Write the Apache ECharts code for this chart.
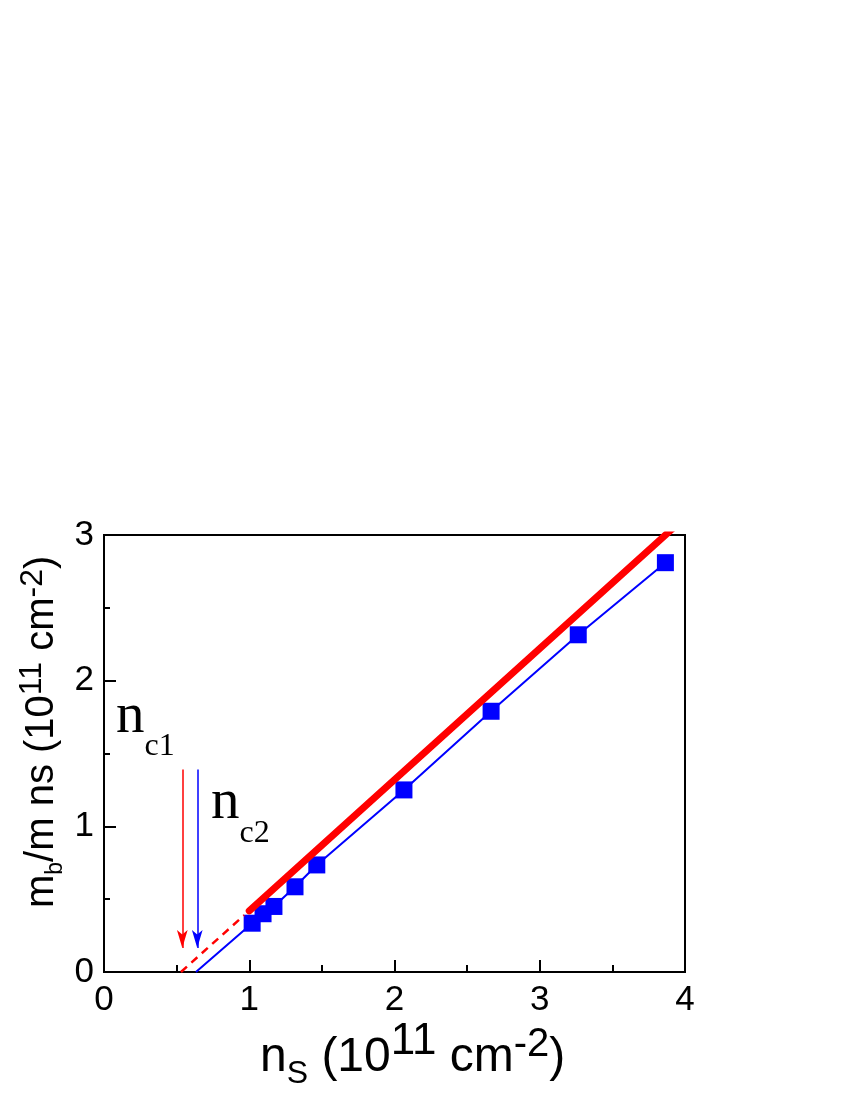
<!DOCTYPE html>
<html><head><meta charset="utf-8">
<script src="https://cdn.jsdelivr.net/npm/echarts@6/dist/echarts.min.js"></script>
<style>html,body{margin:0;padding:0;background:#fff}#c{width:850px;height:1100px}</style>
</head><body><div id="c"></div>
<script>
// ---- data ----
const xTickLabels = ['0', '1', '2', '3', '4'];
const yTickLabels = ['0', '1', '2', '3'];
const nsValues = [1.02, 1.095, 1.17, 1.315, 1.465, 2.065, 2.665, 3.265, 3.865];
const mbValues = [0.335, 0.40, 0.45, 0.585, 0.735, 1.25, 1.79, 2.315, 2.81];
const blueStart = [0.633, 0];
const redSolid = [[1.0, 0.42], [3.91, 3.04]];
const redDashed = [[0.53, 0], [0.965, 0.39]];
const arrowRed = [[0.539, 1.39], [0.539, 0.165]];
const arrowBlue = [[0.642, 1.39], [0.642, 0.165]];
const nc1Anchor = [0.083, 1.648];
const nc2Anchor = [0.737, 1.057];

const SANS = '"Liberation Sans", Arial, sans-serif';
const SERIF = '"Liberation Serif", "Times New Roman", serif';

const chart = echarts.init(document.getElementById('c'), null, {renderer: 'canvas'});
const bluePoints = nsValues.map((x, i) => [x, mbValues[i]]);

chart.setOption({
  animation: false,
  backgroundColor: '#fff',
  grid: {left: 104, right: 165, top: 535, bottom: 128, show: true, borderColor: '#000', borderWidth: 2,
         backgroundColor: 'transparent', containLabel: false, outerBoundsMode: 'none'},
  xAxis: {
    type: 'value', min: 0, max: 4, interval: 1,
    axisLine: {show: true, onZero: false, lineStyle: {color: '#000', width: 2}},
    axisTick: {show: true, inside: true, length: 12, lineStyle: {color: '#000', width: 2}},
    minorTick: {show: true, splitNumber: 2, length: 7, lineStyle: {color: '#000', width: 2}},
    splitLine: {show: false}, minorSplitLine: {show: false},
    axisLabel: {fontSize: 35, color: '#000', fontFamily: SANS, margin: 11,
                formatter: v => xTickLabels[Math.round(v)]}
  },
  yAxis: {
    type: 'value', min: 0, max: 3, interval: 1,
    axisLine: {show: true, onZero: false, lineStyle: {color: '#000', width: 2}},
    axisTick: {show: true, inside: true, length: 12, lineStyle: {color: '#000', width: 2}},
    minorTick: {show: true, splitNumber: 2, length: 6, lineStyle: {color: '#000', width: 2}},
    splitLine: {show: false}, minorSplitLine: {show: false},
    axisLabel: {fontSize: 35, color: '#000', fontFamily: SANS, margin: 10,
                formatter: v => yTickLabels[Math.round(v)]}
  },
  series: [
    {type: 'line', data: [blueStart].concat(bluePoints), showSymbol: false, symbol: 'none',
     lineStyle: {color: '#0000ff', width: 2}, z: 2, silent: true,
     markLine: {silent: true, symbol: ['none', 'arrow'], symbolSize: [8, 18], label: {show: false},
                animation: false,
                lineStyle: {color: '#0000ff', width: 1.5, type: 'solid'},
                data: [[{coord: arrowBlue[0]}, {coord: arrowBlue[1]}]]}},
    {type: 'scatter', data: bluePoints, symbol: 'rect', symbolSize: 17,
     itemStyle: {color: '#0000ff', opacity: 1}, z: 3, silent: true},
    {type: 'line', data: redDashed, showSymbol: false, symbol: 'none',
     lineStyle: {color: '#ff0000', width: 2.5, type: [8, 6]}, z: 4, silent: true,
     markLine: {silent: true, symbol: ['none', 'arrow'], symbolSize: [8, 18], label: {show: false},
                animation: false,
                lineStyle: {color: '#ff0000', width: 1.5, type: 'solid'},
                data: [[{coord: arrowRed[0]}, {coord: arrowRed[1]}]]}},
    {type: 'line', data: redSolid, showSymbol: false, symbol: 'none', clip: true,
     lineStyle: {color: '#ff0000', width: 7, cap: 'round'}, z: 5, silent: true}
  ]
});

// ---- text runs with sub/superscripts ----
const mctx = document.createElement('canvas').getContext('2d');
function fontStr(fs, fam) { return 'normal normal ' + fs + 'px ' + fam; }
function baseOffset(fs, fam) {
  mctx.font = fontStr(fs, fam);
  mctx.textBaseline = 'middle';
  const m = mctx.measureText('x');
  let a = m.alphabeticBaseline;
  if (typeof a !== 'number' || a === 0 || !isFinite(a)) a = 0.33 * fs;
  return Math.abs(a);
}
function run(pieces, fam) {
  let x = 0;
  const children = [];
  pieces.forEach(p => {
    mctx.font = fontStr(p.fs, fam);
    const w = mctx.measureText(p.t).width;
    children.push({
      type: 'text', x: x, y: (p.dy || 0) - baseOffset(p.fs, fam),
      style: {text: p.t, fontSize: p.fs, fontFamily: fam, fill: '#000',
              align: 'left', verticalAlign: 'middle', textAlign: 'left', textVerticalAlign: 'middle'}
    });
    x += w;
  });
  return children;
}

const xTitle = [
  {t: 'n', fs: 48}, {t: 'S', fs: 32, dy: 12}, {t: ' (10', fs: 48},
  {t: '11', fs: 44, dy: -17}, {t: ' cm', fs: 48}, {t: '-2', fs: 40, dy: -15}, {t: ')', fs: 48}
];
const yTitle = [
  {t: 'm', fs: 40}, {t: 'b', fs: 23, dy: 9}, {t: '/m ns (10', fs: 40},
  {t: '11', fs: 32, dy: -12}, {t: ' cm', fs: 40}, {t: '-2', fs: 32, dy: -11}, {t: ')', fs: 40}
];
const nc1 = [{t: 'n', fs: 57}, {t: 'c1', fs: 32, dy: 23}];
const nc2 = [{t: 'n', fs: 57}, {t: 'c2', fs: 32, dy: 24}];

const p1 = chart.convertToPixel({gridIndex: 0}, nc1Anchor);
const p2 = chart.convertToPixel({gridIndex: 0}, nc2Anchor);

chart.setOption({
  graphic: [
    {type: 'group', x: 260, y: 1071, children: run(xTitle, SANS), silent: true},
    {type: 'group', x: 53, y: 908, rotation: Math.PI / 2, children: run(yTitle, SANS), silent: true},
    {type: 'group', x: p1[0], y: p1[1], children: run(nc1, SERIF), silent: true},
    {type: 'group', x: p2[0], y: p2[1], children: run(nc2, SERIF), silent: true}
  ]
});
</script></body></html>
